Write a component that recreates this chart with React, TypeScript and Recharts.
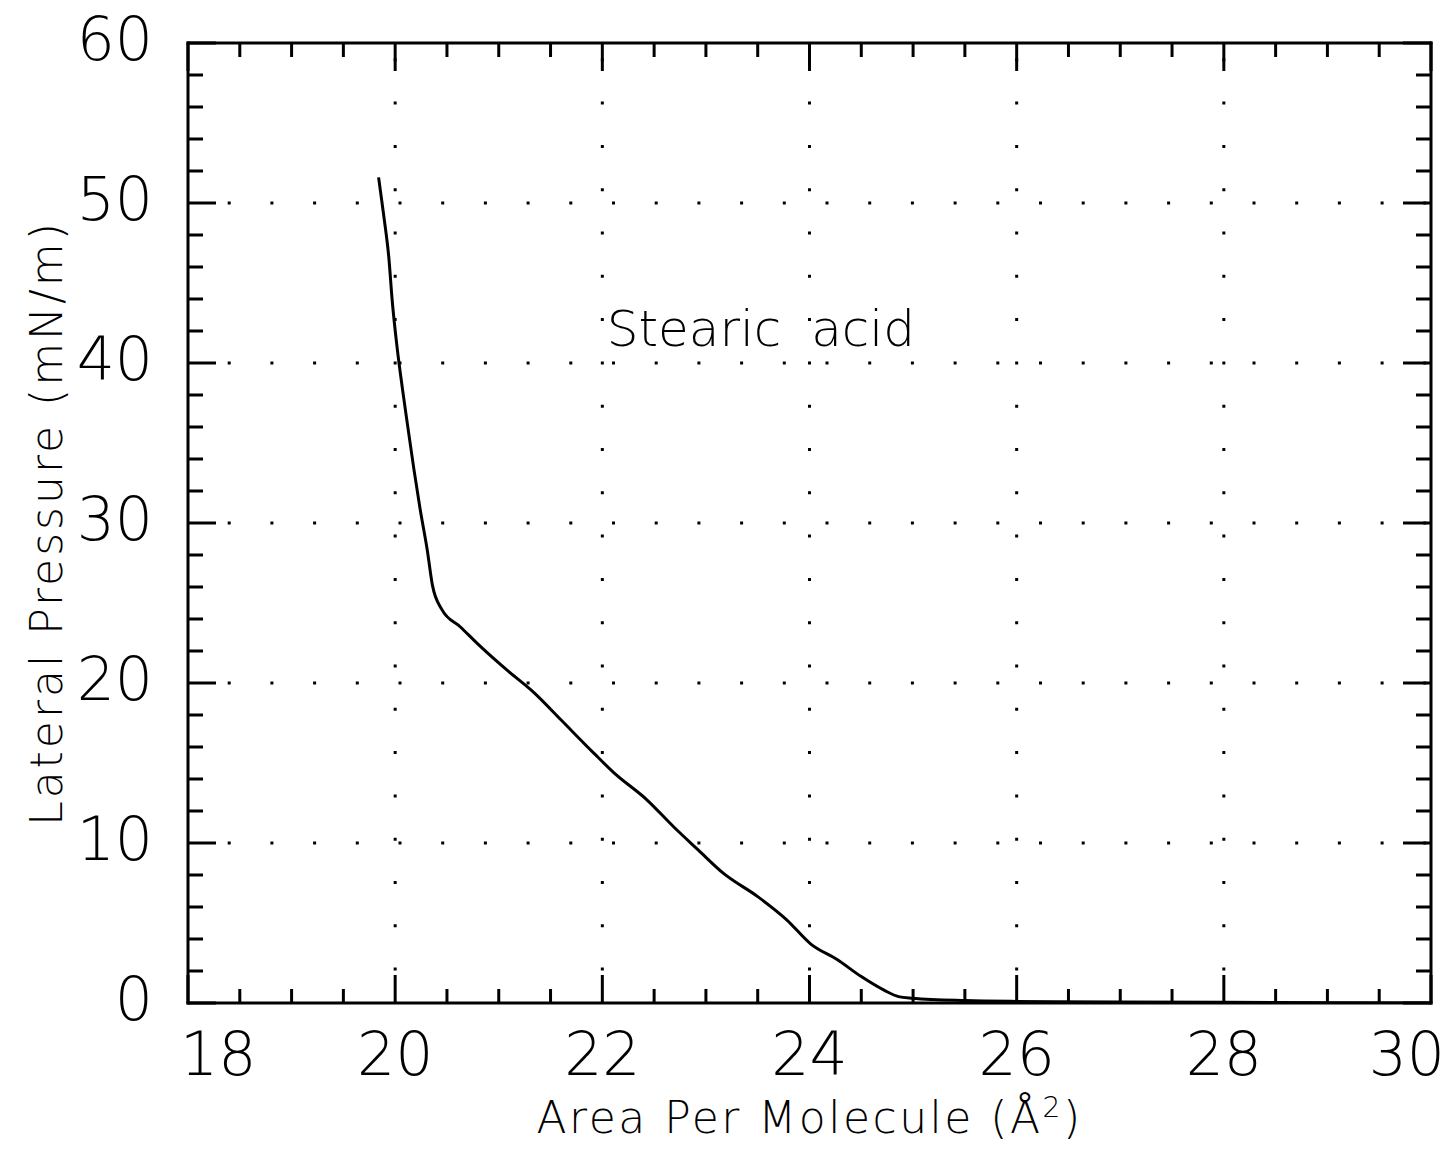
import { LineChart, Line, XAxis, YAxis, CartesianGrid, ReferenceDot } from 'recharts';

// Stearic acid isotherm
const areaValues = [
  19.84, 19.89, 19.94, 19.97, 20.02, 20.07, 20.12, 20.18, 20.24, 20.31, 20.36, 20.45,
  20.63, 20.82, 21.08, 21.34, 21.6, 21.92, 22.11, 22.43, 22.69, 22.92, 23.17, 23.5,
  23.78, 24.01, 24.27, 24.5, 24.72, 24.86, 25.0, 25.5, 26.0, 27.0, 28.0, 29.0, 30.0,
];
const pressureValues = [
  51.6, 49.2, 46.5, 44.0, 40.9, 38.4, 36.1, 33.4, 30.9, 28.3, 26.1, 24.6,
  23.5, 22.3, 20.8, 19.4, 17.7, 15.6, 14.4, 12.7, 11.0, 9.6, 8.1, 6.65,
  5.2, 3.7, 2.7, 1.65, 0.8, 0.4, 0.3, 0.15, 0.1, 0.07, 0.05, 0.02, 0,
];

const xMajorTicks = [18, 20, 22, 24, 26, 28, 30];
const xMinorTicks = [18.5, 19, 19.5, 20.5, 21, 21.5, 22.5, 23, 23.5, 24.5, 25, 25.5, 26.5, 27, 27.5, 28.5, 29, 29.5];
const yMajorTicks = [0, 10, 20, 30, 40, 50, 60];
const yMinorTicks = [2, 4, 6, 8, 12, 14, 16, 18, 22, 24, 26, 28, 32, 34, 36, 38, 42, 44, 46, 48, 52, 54, 56, 58];
const xGridValues = [20, 22, 24, 26, 28];
const yGridValues = [10, 20, 30, 40, 50];

const chartData = areaValues.map((a, i) => ({ area: a, pressure: pressureValues[i] }));
const xTicks = [...xMajorTicks, ...xMinorTicks].sort((a, b) => a - b);
const yTicks = [...yMajorTicks, ...yMinorTicks].sort((a, b) => a - b);

const FONT = '"DejaVu Sans", sans-serif';
const W = 200;

const BottomTick = (props: any) => {
  const { x, y, payload } = props;
  const v = payload.value;
  const major = xMajorTicks.includes(v);
  let anchor = 'middle';
  let tx = x;
  if (v === xMajorTicks[0]) {
    anchor = 'start';
    tx = x - 8;
  }
  if (v === xMajorTicks[xMajorTicks.length - 1]) {
    anchor = 'end';
    tx = x + 14;
  }
  return (
    <g>
      <line x1={x} y1={y} x2={x} y2={y - (major ? 28 : 14)} stroke="#000" strokeWidth={3} />
      {major && (
        <text x={tx} y={y + 72} textAnchor={anchor} fontSize={60} fontFamily={FONT} fontWeight={W} fill="#000">
          {v}
        </text>
      )}
    </g>
  );
};

const TopTick = (props: any) => {
  const { x, y, payload } = props;
  const major = xMajorTicks.includes(payload.value);
  return <line x1={x} y1={y} x2={x} y2={y + (major ? 28 : 14)} stroke="#000" strokeWidth={3} />;
};

const LeftTick = (props: any) => {
  const { x, y, payload } = props;
  const v = payload.value;
  const major = yMajorTicks.includes(v);
  return (
    <g>
      <line x1={x} y1={y} x2={x + (major ? 28 : 15)} y2={y} stroke="#000" strokeWidth={3} />
      {major && (
        <text x={x - 35} y={y + 17} textAnchor="end" fontSize={60} fontFamily={FONT} fontWeight={W} fill="#000">
          {v}
        </text>
      )}
    </g>
  );
};

const RightTick = (props: any) => {
  const { x, y, payload } = props;
  const major = yMajorTicks.includes(payload.value);
  return <line x1={x} y1={y} x2={x - (major ? 28 : 15)} y2={y} stroke="#000" strokeWidth={3} />;
};

const XTitle = (props: any) => {
  const vb = props.viewBox;
  return (
    <text
      x={vb.x + vb.width / 2}
      y={vb.y + 130}
      textAnchor="middle"
      fontSize={44}
      fontFamily={FONT}
      fontWeight={W}
      letterSpacing={2.5}
      fill="#000"
    >
      Area Per Molecule (Å
      <tspan dy={-16} fontSize={28}>2</tspan>
      <tspan dy={16}>)</tspan>
    </text>
  );
};

const YTitle = (props: any) => {
  const vb = props.viewBox;
  const cx = 62;
  const cy = vb.y + vb.height / 2;
  return (
    <text
      x={cx}
      y={cy}
      transform={`rotate(-90, ${cx}, ${cy})`}
      textAnchor="middle"
      fontSize={44}
      fontFamily={FONT}
      fontWeight={W}
      letterSpacing={3}
      fill="#000"
    >
      Lateral Pressure (mN/m)
    </text>
  );
};

const Annotation = (props: any) => (
  <text x={props.cx} y={props.cy} textAnchor="middle" fontSize={50} fontFamily={FONT} fontWeight={W} wordSpacing={14} fill="#000">
    Stearic acid
  </text>
);

export default function App() {
  const axisLine = { stroke: '#000', strokeWidth: 3, strokeLinecap: 'square' as const };
  return (
    <div style={{ position: 'absolute', left: 0, top: 0, background: '#fff' }}>
      <LineChart width={1451} height={1149} data={chartData} margin={{ top: 0, right: 0, bottom: 0, left: 0 }}>
        <CartesianGrid
          horizontal={false}
          verticalValues={xGridValues}
          stroke="#000"
          strokeWidth={3}
          strokeDasharray="3 40.3"
          strokeDashoffset={28}
        />
        <CartesianGrid
          vertical={false}
          horizontalValues={yGridValues}
          stroke="#000"
          strokeWidth={3}
          strokeDasharray="3 39.7"
          strokeDashoffset={3}
        />
        <XAxis
          dataKey="area"
          type="number"
          domain={[18, 30]}
          ticks={xTicks}
          interval={0}
          height={146}
          tickSize={0}
          tickMargin={0}
          tickLine={false}
          axisLine={axisLine}
          tick={<BottomTick />}
          label={<XTitle />}
          allowDataOverflow
        />
        <XAxis
          xAxisId="top"
          dataKey="area"
          orientation="top"
          type="number"
          domain={[18, 30]}
          ticks={xTicks}
          interval={0}
          height={43}
          tickSize={0}
          tickMargin={0}
          tickLine={false}
          axisLine={axisLine}
          tick={<TopTick />}
          allowDataOverflow
        />
        <YAxis
          type="number"
          domain={[0, 60]}
          ticks={yTicks}
          interval={0}
          width={188}
          tickSize={0}
          tickMargin={0}
          tickLine={false}
          axisLine={axisLine}
          tick={<LeftTick />}
          label={<YTitle />}
          allowDataOverflow
        />
        <YAxis
          yAxisId="right"
          orientation="right"
          type="number"
          domain={[0, 60]}
          ticks={yTicks}
          interval={0}
          width={20}
          tickSize={0}
          tickMargin={0}
          tickLine={false}
          axisLine={axisLine}
          tick={<RightTick />}
          allowDataOverflow
        />
        <Line
          dataKey="pressure"
          type="monotone"
          stroke="#000"
          strokeWidth={3}
          dot={false}
          isAnimationActive={false}
        />
        <ReferenceDot x={23.53} y={41.06} r={0} shape={<Annotation />} />
      </LineChart>
    </div>
  );
}
